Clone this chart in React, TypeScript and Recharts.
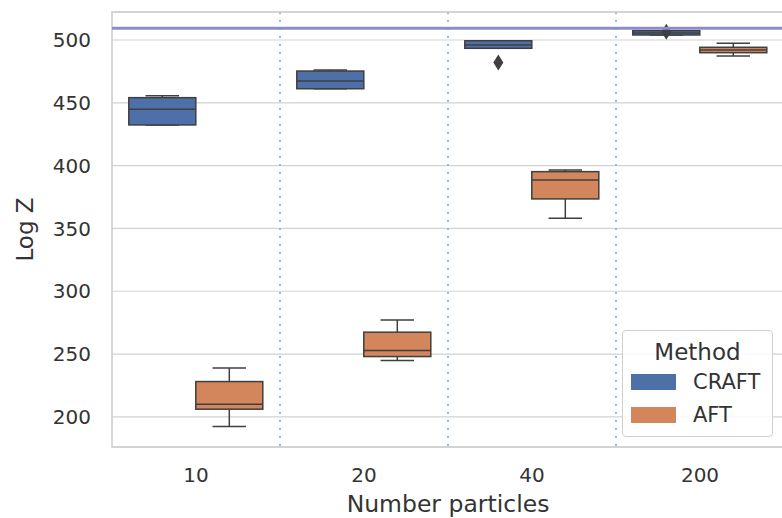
import { ComposedChart, Bar, XAxis, YAxis, CartesianGrid, ReferenceLine, ReferenceArea, Legend } from 'recharts'

const categories = ['10', '20', '40', '200']

// CRAFT box stats
const craftLow = [432.4, 461.2, 493.4, 504.0]
const craftQ1 = [432.4, 461.2, 493.4, 504.0]
const craftMed = [444.9, 467.4, 496.0, 505.6]
const craftQ3 = [454.1, 475.3, 499.4, 507.4]
const craftHigh = [455.7, 476.1, 499.4, 507.4]
const craftOut = [[], [], [482], [506.6]]

// AFT box stats
const aftLow = [192.3, 244.8, 358.2, 487.3]
const aftQ1 = [206.1, 248.0, 373.5, 489.9]
const aftMed = [210.1, 252.8, 388.6, 492.0]
const aftQ3 = [228.1, 267.4, 395.2, 494.2]
const aftHigh = [238.8, 277.2, 396.6, 497.4]
const aftOut = [[], [], [], []]

const yTicks = [200, 250, 300, 350, 400, 450, 500]
const refValue = 509.3

const CRAFT_COLOR = '#4e70a8'
const AFT_COLOR = '#d3855b'
const EDGE = '#3f3f3f'
const FONT = 'DejaVu Sans'

type Stats = { lo: number; q1: number; med: number; q3: number; hi: number; out: number[] }

const rows = categories.map((n, i) => {
  const c: Stats = { lo: craftLow[i], q1: craftQ1[i], med: craftMed[i], q3: craftQ3[i], hi: craftHigh[i], out: craftOut[i] }
  const a: Stats = { lo: aftLow[i], q1: aftQ1[i], med: aftMed[i], q3: aftQ3[i], hi: aftHigh[i], out: aftOut[i] }
  return {
    n,
    craft: [Math.min(c.lo, ...c.out), Math.max(c.hi, ...c.out)],
    aft: [Math.min(a.lo, ...a.out), Math.max(a.hi, ...a.out)],
    craftStats: c,
    aftStats: a,
  }
})

function BoxShape(props: any) {
  const { x, y, width, height, payload, statsKey, rangeKey, fill } = props
  const s: Stats = payload[statsKey]
  const [lo, hi] = payload[rangeKey]
  const top = Math.min(y, y + height)
  const bot = Math.max(y, y + height)
  const py = (v: number) => (hi === lo ? top : top + ((bot - top) * (hi - v)) / (hi - lo))
  const cx = x + width / 2
  const capHalf = width / 4
  return (
    <g>
      <line x1={cx} x2={cx} y1={py(s.q3)} y2={py(s.hi)} stroke={EDGE} strokeWidth={1.5} />
      <line x1={cx} x2={cx} y1={py(s.q1)} y2={py(s.lo)} stroke={EDGE} strokeWidth={1.5} />
      <line x1={cx - capHalf} x2={cx + capHalf} y1={py(s.hi)} y2={py(s.hi)} stroke={EDGE} strokeWidth={1.5} />
      <line x1={cx - capHalf} x2={cx + capHalf} y1={py(s.lo)} y2={py(s.lo)} stroke={EDGE} strokeWidth={1.5} />
      <rect x={x} y={py(s.q3)} width={width} height={Math.max(py(s.q1) - py(s.q3), 1)} fill={fill} stroke={EDGE} strokeWidth={1.5} />
      <line x1={x} x2={x + width} y1={py(s.med)} y2={py(s.med)} stroke={EDGE} strokeWidth={1.5} />
      {s.out.map((v, k) => {
        const oy = py(v)
        return <path key={k} d={`M${cx},${oy - 8} L${cx + 5},${oy} L${cx},${oy + 8} L${cx - 5},${oy} Z`} fill={EDGE} />
      })}
    </g>
  )
}

function MethodLegend() {
  const items = [
    { name: 'CRAFT', color: CRAFT_COLOR },
    { name: 'AFT', color: AFT_COLOR },
  ]
  return (
    <div
      style={{
        width: 151,
        height: 107,
        boxSizing: 'border-box',
        border: '1px solid #cfcfcf',
        borderRadius: 4,
        background: 'rgba(255,255,255,0.85)',
        fontFamily: FONT,
        color: '#333',
        padding: '8px 0 0 8px',
      }}
    >
      <div style={{ textAlign: 'center', paddingRight: 8, lineHeight: '26px', fontSize: 23 }}>Method</div>
      {items.map((it) => (
        <div key={it.name} style={{ display: 'flex', alignItems: 'center', height: 33, fontSize: 21 }}>
          <span style={{ display: 'inline-block', width: 45, height: 16, background: it.color, marginRight: 17 }} />
          <span>{it.name}</span>
        </div>
      ))}
    </div>
  )
}

export default function App() {
  return (
    <div style={{ position: 'absolute', left: 0, top: 0, width: 782, height: 518, overflow: 'hidden', background: '#fff' }}>
      <ComposedChart
        width={790}
        height={518}
        data={rows}
        margin={{ top: 12, right: 6, bottom: 0, left: 0 }}
        barCategoryGap="10%"
        barGap={0}
      >
        <CartesianGrid vertical={false} stroke="#d2d2d2" strokeWidth={1.2} />
        <CartesianGrid
          horizontal={false}
          stroke="#8cc2de"
          strokeWidth={2}
          strokeDasharray="2 6"
          verticalCoordinatesGenerator={({ offset }: any) => [1, 2, 3].map((i) => offset.left + (offset.width * i) / 4)}
        />
        <ReferenceArea y1={176} y2={522.3} fill="none" stroke="#cccccc" strokeWidth={1.5} ifOverflow="extendDomain" />
        <XAxis
          dataKey="n"
          type="category"
          height={71}
          axisLine={false}
          tickLine={false}
          tickSize={0}
          tickMargin={21}
          tick={{ fontFamily: FONT, fontSize: 20, fill: '#333' }}
          label={{ value: 'Number particles', position: 'insideBottom', offset: 6, style: { fontFamily: FONT, fontSize: 23.5, fill: '#333' } }}
        />
        <YAxis
          type="number"
          domain={[176, 522.3]}
          ticks={yTicks}
          allowDataOverflow
          width={112}
          axisLine={false}
          tickLine={false}
          tickSize={0}
          tickMargin={21}
          tick={{ fontFamily: FONT, fontSize: 20, fill: '#333' }}
          label={{ value: 'Log Z', angle: -90, position: 'insideLeft', offset: 25, style: { textAnchor: 'middle', fontFamily: FONT, fontSize: 23, fill: '#333' } }}
        />
        <ReferenceLine y={refValue} stroke="#8c8cc6" strokeWidth={3} />
        <Bar
          dataKey="craft"
          name="CRAFT"
          fill={CRAFT_COLOR}
          isAnimationActive={false}
          shape={(p: any) => <BoxShape {...p} statsKey="craftStats" rangeKey="craft" fill={CRAFT_COLOR} />}
        />
        <Bar
          dataKey="aft"
          name="AFT"
          fill={AFT_COLOR}
          isAnimationActive={false}
          shape={(p: any) => <BoxShape {...p} statsKey="aftStats" rangeKey="aft" fill={AFT_COLOR} />}
        />
        <Legend
          layout="horizontal"
          verticalAlign="middle"
          align="center"
          content={() => <MethodLegend />}
          wrapperStyle={{ left: 622, top: 330, width: 151, height: 107 }}
        />
      </ComposedChart>
    </div>
  )
}
